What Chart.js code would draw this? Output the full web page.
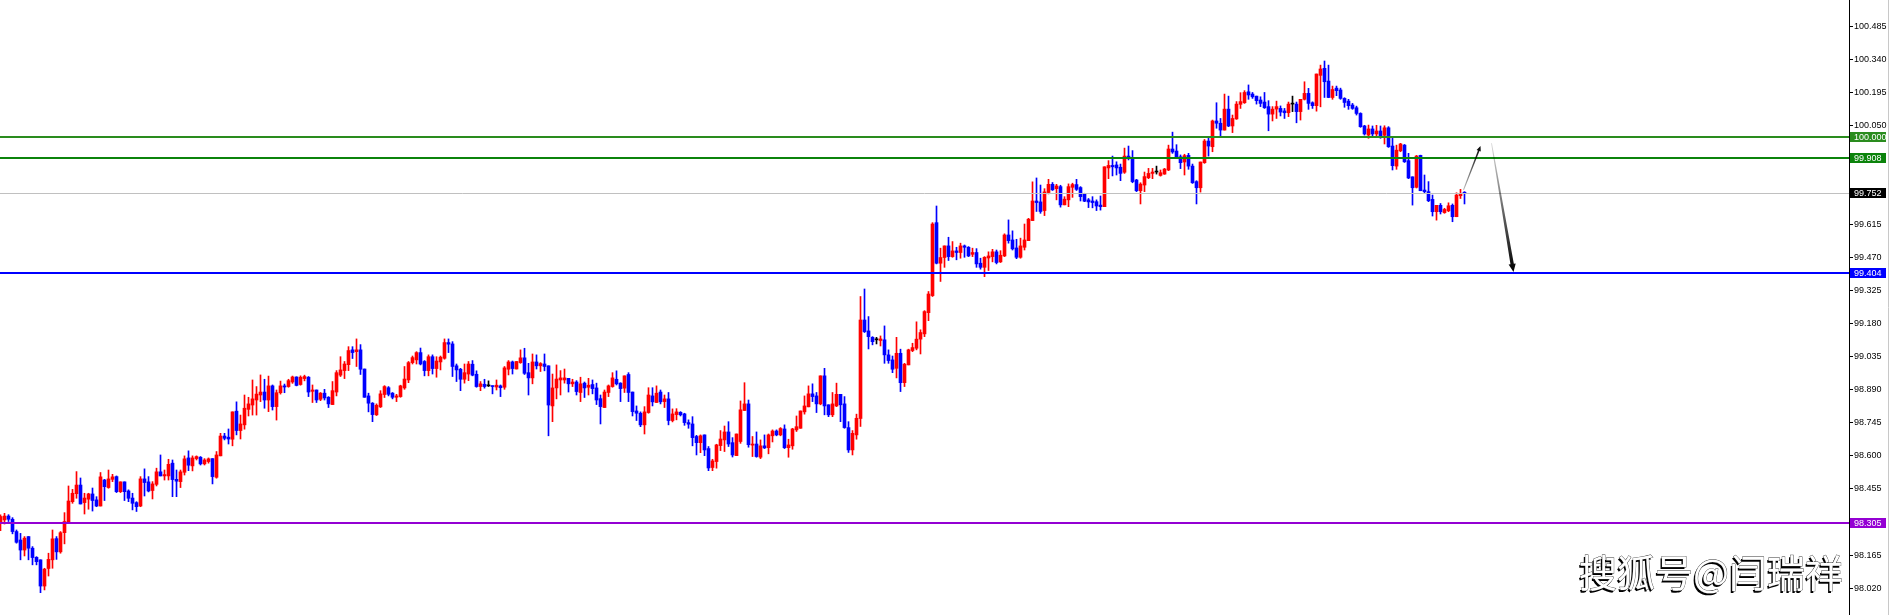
<!DOCTYPE html>
<html>
<head>
<meta charset="utf-8">
<script src="https://cdn.jsdelivr.net/npm/chart.js@4"></script>
<style>
  html, body { margin:0; padding:0; background:#fff; }
  #wrap { width:1890px; height:615px; position:relative; }
</style>
</head>
<body>
<div id="wrap"><canvas id="chart" width="1890" height="615"></canvas></div>
<script>
/* candles (oldest first) */
const opens = [
  98.307,98.319,98.336,98.322,98.268,98.231,98.187,98.246,98.195,98.155,
  98.144,98.029,98.106,98.144,98.237,98.179,98.263,98.307,98.399,98.434,
  98.472,98.395,98.410,98.433,98.407,98.380,98.494,98.461,98.497,98.509,
  98.443,98.486,98.446,98.415,98.395,98.380,98.499,98.486,98.448,98.475,
  98.530,98.512,98.512,98.568,98.497,98.487,98.528,98.591,98.556,98.588,
  98.594,98.565,98.575,98.588,98.506,98.600,98.687,98.682,98.673,98.796,
  98.711,98.736,98.804,98.823,98.845,98.867,98.880,98.845,98.907,98.816,
  98.877,98.907,98.904,98.924,98.946,98.913,98.939,98.945,98.883,98.889,
  98.848,98.875,98.857,98.825,98.880,98.954,98.974,99.000,99.065,99.057,
  99.065,98.981,98.863,98.831,98.780,98.815,98.869,98.899,98.875,98.857,
  98.860,98.898,98.933,99.009,99.021,99.053,99.014,98.974,99.035,98.983,
  99.012,99.028,99.097,99.091,98.995,98.980,98.936,98.959,99.002,98.958,
  98.904,98.914,98.907,98.907,98.902,98.907,98.901,98.980,99.012,98.981,
  99.009,99.030,98.965,98.942,99.012,98.995,99.003,98.995,98.819,98.898,
  98.933,98.933,98.940,98.916,98.924,98.878,98.919,98.901,98.913,98.898,
  98.851,98.812,98.878,98.904,98.936,98.919,98.897,98.957,98.880,98.797,
  98.787,98.736,98.790,98.863,98.834,98.880,98.838,98.850,98.755,98.781,
  98.791,98.784,98.746,98.740,98.685,98.658,98.692,98.632,98.549,98.575,
  98.645,98.670,98.705,98.658,98.601,98.663,98.799,98.828,98.647,98.652,
  98.594,98.644,98.636,98.688,98.709,98.692,98.718,98.636,98.644,98.714,
  98.721,98.793,98.815,98.872,98.863,98.828,98.951,98.824,98.780,98.819,
  98.870,98.828,98.724,98.626,98.692,98.764,99.196,99.148,99.120,99.109,
  99.106,99.109,99.043,99.021,98.984,99.050,98.921,98.999,99.062,99.072,
  99.112,99.135,99.228,99.303,99.623,99.445,99.470,99.521,99.474,99.499,
  99.492,99.521,99.515,99.484,99.492,99.445,99.427,99.468,99.474,99.495,
  99.451,99.477,99.569,99.547,99.512,99.471,99.515,99.544,99.632,99.718,
  99.714,99.676,99.755,99.791,99.772,99.781,99.701,99.723,99.778,99.790,
  99.777,99.748,99.723,99.718,99.715,99.700,99.693,99.863,99.874,99.876,
  99.866,99.844,99.915,99.904,99.810,99.763,99.788,99.820,99.839,99.845,
  99.830,99.836,99.854,99.946,99.937,99.912,99.889,99.918,99.871,99.803,
  99.776,99.886,99.981,99.956,100.069,100.059,100.029,100.121,100.047,100.078,
  100.142,100.149,100.197,100.187,100.178,100.161,100.152,100.132,100.099,100.121,
  100.124,100.113,100.105,100.143,100.143,100.110,100.164,100.190,100.149,100.136,
  100.269,100.300,100.244,100.172,100.213,100.205,100.168,100.156,100.139,100.127,
  100.102,100.047,100.007,100.034,100.012,100.025,100.006,100.039,99.959,99.871,
  99.938,99.963,99.895,99.824,99.778,99.918,99.766,99.759,99.725,99.671,
  99.699,99.667,99.675,99.699,99.649,99.741,99.755
];
const highs = [
  98.341,98.348,98.342,98.329,98.275,98.260,98.246,98.246,98.202,98.158,
  98.144,98.107,98.173,98.275,98.246,98.268,98.351,98.468,98.453,98.531,
  98.503,98.436,98.436,98.459,98.421,98.527,98.497,98.538,98.519,98.512,
  98.486,98.486,98.451,98.436,98.399,98.509,98.543,98.509,98.487,98.546,
  98.604,98.538,98.585,98.582,98.538,98.538,98.600,98.622,98.600,98.600,
  98.597,98.588,98.591,98.588,98.619,98.699,98.699,98.718,98.793,98.837,
  98.779,98.867,98.857,98.933,98.904,98.955,98.936,98.950,98.911,98.889,
  98.928,98.915,98.936,98.950,98.947,98.951,98.954,98.948,98.911,98.889,
  98.878,98.892,98.860,98.926,98.974,99.035,99.014,99.079,99.079,99.113,
  99.088,98.981,98.875,98.834,98.828,98.886,98.908,98.904,98.878,98.870,
  98.910,98.992,99.014,99.038,99.057,99.073,99.018,99.043,99.043,99.035,
  99.038,99.113,99.113,99.101,99.003,98.984,99.003,99.014,99.018,98.973,
  98.926,98.936,98.929,98.907,98.933,98.911,98.992,99.018,99.016,99.014,
  99.065,99.072,99.006,99.047,99.043,99.009,99.047,98.995,98.959,98.999,
  98.974,98.981,98.940,98.936,98.930,98.945,98.924,98.940,98.933,98.919,
  98.867,98.889,98.911,98.965,98.973,98.921,98.951,98.965,98.880,98.819,
  98.793,98.816,98.899,98.899,98.907,98.889,98.867,98.878,98.806,98.807,
  98.794,98.787,98.758,98.772,98.690,98.692,98.692,98.641,98.585,98.651,
  98.711,98.731,98.750,98.680,98.696,98.841,98.921,98.845,98.685,98.705,
  98.670,98.692,98.696,98.714,98.714,98.724,98.736,98.673,98.721,98.775,
  98.797,98.863,98.907,98.916,98.878,98.951,98.984,98.824,98.878,98.919,
  98.870,98.860,98.750,98.711,98.783,99.299,99.332,99.211,99.123,99.120,
  99.126,99.170,99.065,99.038,99.120,99.068,99.006,99.068,99.094,99.188,
  99.153,99.237,99.321,99.623,99.696,99.511,99.521,99.559,99.540,99.515,
  99.533,99.525,99.518,99.511,99.509,99.467,99.474,99.495,99.506,99.503,
  99.500,99.574,99.635,99.587,99.550,99.555,99.617,99.642,99.802,99.819,
  99.788,99.772,99.813,99.799,99.791,99.787,99.737,99.793,99.796,99.813,
  99.781,99.752,99.729,99.737,99.723,99.740,99.868,99.895,99.915,99.890,
  99.880,99.950,99.959,99.939,99.813,99.798,99.845,99.861,99.861,99.871,
  99.854,99.861,99.963,100.020,99.965,99.920,99.923,99.927,99.880,99.807,
  99.889,99.988,99.996,100.073,100.149,100.080,100.187,100.178,100.095,100.154,
  100.193,100.202,100.227,100.194,100.178,100.175,100.194,100.158,100.132,100.156,
  100.135,100.124,100.152,100.178,100.152,100.164,100.241,100.212,100.153,100.275,
  100.314,100.332,100.314,100.222,100.222,100.213,100.171,100.164,100.146,100.134,
  100.105,100.050,100.051,100.047,100.050,100.047,100.048,100.044,99.997,99.963,
  99.971,99.966,99.927,99.824,99.918,99.919,99.832,99.803,99.744,99.699,
  99.707,99.686,99.710,99.705,99.754,99.769,99.759
];
const lows = [
  98.272,98.301,98.312,98.258,98.217,98.144,98.161,98.144,98.122,98.122,
  98.000,98.012,98.073,98.107,98.146,98.173,98.214,98.304,98.392,98.414,
  98.389,98.345,98.366,98.358,98.377,98.380,98.404,98.458,98.487,98.439,
  98.439,98.404,98.399,98.363,98.356,98.377,98.424,98.442,98.411,98.468,
  98.512,98.494,98.494,98.421,98.421,98.461,98.516,98.535,98.534,98.582,
  98.560,98.560,98.568,98.477,98.502,98.600,98.670,98.652,98.644,98.692,
  98.674,98.717,98.775,98.779,98.779,98.838,98.809,98.794,98.801,98.757,
  98.871,98.877,98.901,98.918,98.907,98.910,98.929,98.860,98.834,98.834,
  98.842,98.845,98.812,98.825,98.863,98.948,98.939,98.974,99.027,98.992,
  98.957,98.857,98.793,98.750,98.777,98.812,98.856,98.863,98.850,98.838,
  98.857,98.892,98.921,99.003,99.003,98.999,98.951,98.951,98.959,98.945,
  98.977,99.024,99.053,98.948,98.926,98.886,98.919,98.930,98.951,98.901,
  98.886,98.897,98.904,98.872,98.889,98.860,98.892,98.955,98.959,98.981,
  99.006,98.957,98.867,98.916,98.981,98.970,98.973,98.688,98.750,98.850,
  98.867,98.919,98.880,98.904,98.867,98.838,98.856,98.867,98.872,98.825,
  98.740,98.812,98.860,98.901,98.911,98.838,98.878,98.838,98.775,98.755,
  98.728,98.696,98.787,98.819,98.834,98.828,98.812,98.736,98.749,98.758,
  98.775,98.734,98.721,98.644,98.604,98.614,98.601,98.535,98.535,98.546,
  98.623,98.619,98.641,98.595,98.601,98.655,98.799,98.638,98.597,98.594,
  98.588,98.632,98.609,98.661,98.688,98.688,98.632,98.594,98.629,98.707,
  98.721,98.783,98.815,98.838,98.790,98.824,98.780,98.772,98.772,98.816,
  98.750,98.721,98.615,98.604,98.673,98.729,99.141,99.069,99.087,99.091,
  99.082,99.006,99.006,98.965,98.942,98.882,98.904,98.999,99.057,99.065,
  99.047,99.123,99.193,99.299,99.442,99.365,99.427,99.457,99.471,99.460,
  99.467,99.471,99.474,99.474,99.427,99.419,99.386,99.413,99.451,99.442,
  99.448,99.474,99.533,99.503,99.465,99.467,99.503,99.544,99.632,99.672,
  99.664,99.654,99.749,99.764,99.723,99.691,99.701,99.693,99.734,99.764,
  99.718,99.715,99.689,99.688,99.676,99.678,99.693,99.816,99.828,99.832,
  99.807,99.839,99.898,99.798,99.759,99.705,99.759,99.816,99.816,99.836,
  99.827,99.835,99.851,99.927,99.905,99.860,99.832,99.857,99.795,99.705,
  99.757,99.883,99.915,99.934,100.037,100.000,100.029,100.044,100.018,100.076,
  100.124,100.146,100.164,100.168,100.143,100.132,100.124,100.026,100.069,100.080,
  100.091,100.080,100.088,100.110,100.061,100.073,100.161,100.120,100.124,100.112,
  100.131,100.172,100.171,100.164,100.180,100.164,100.129,100.120,100.120,100.095,
  100.041,100.007,99.993,100.000,99.997,99.993,99.968,99.953,99.854,99.857,
  99.934,99.887,99.816,99.700,99.775,99.763,99.751,99.715,99.652,99.634,
  99.661,99.664,99.671,99.627,99.649,99.729,99.705
];
const closes = [
  98.334,98.336,98.322,98.268,98.221,98.187,98.239,98.195,98.154,98.136,
  98.029,98.103,98.146,98.236,98.179,98.263,98.312,98.402,98.436,98.472,
  98.389,98.415,98.433,98.404,98.380,98.508,98.465,98.499,98.508,98.443,
  98.486,98.443,98.414,98.392,98.377,98.499,98.483,98.446,98.477,98.530,
  98.512,98.518,98.563,98.496,98.489,98.530,98.587,98.559,98.591,98.597,
  98.565,98.582,98.587,98.509,98.604,98.687,98.677,98.674,98.793,98.711,
  98.740,98.809,98.828,98.850,98.871,98.880,98.845,98.907,98.816,98.877,
  98.907,98.902,98.930,98.946,98.909,98.945,98.948,98.880,98.889,98.845,
  98.875,98.854,98.828,98.886,98.965,98.977,99.003,99.062,99.053,99.065,
  98.980,98.857,98.831,98.781,98.822,98.872,98.904,98.870,98.857,98.863,
  98.907,98.937,99.009,99.031,99.053,99.003,98.974,99.035,98.983,99.016,
  99.033,99.097,99.090,98.992,98.977,98.936,98.965,99.003,98.954,98.904,
  98.916,98.904,98.907,98.904,98.910,98.899,98.986,99.012,98.983,99.014,
  99.030,98.962,98.942,99.012,98.995,99.005,98.992,98.823,98.898,98.937,
  98.942,98.942,98.916,98.924,98.882,98.916,98.898,98.910,98.895,98.845,
  98.816,98.880,98.907,98.942,98.916,98.895,98.951,98.878,98.794,98.787,
  98.736,98.793,98.867,98.837,98.875,98.837,98.850,98.755,98.784,98.793,
  98.780,98.746,98.739,98.680,98.658,98.688,98.626,98.547,98.578,98.648,
  98.674,98.705,98.652,98.604,98.696,98.802,98.828,98.649,98.652,98.597,
  98.644,98.635,98.692,98.709,98.692,98.720,98.636,98.648,98.718,98.728,
  98.797,98.819,98.872,98.860,98.828,98.951,98.819,98.780,98.828,98.870,
  98.824,98.724,98.626,98.699,98.765,99.196,99.145,99.123,99.101,99.109,
  99.113,99.043,99.018,98.980,99.050,98.921,99.002,99.065,99.075,99.112,
  99.141,99.233,99.310,99.617,99.445,99.470,99.521,99.474,99.499,99.492,
  99.521,99.515,99.477,99.492,99.442,99.427,99.471,99.477,99.495,99.448,
  99.480,99.569,99.544,99.508,99.471,99.521,99.547,99.638,99.718,99.711,
  99.672,99.758,99.791,99.767,99.784,99.701,99.726,99.781,99.790,99.769,
  99.737,99.717,99.714,99.711,99.696,99.693,99.868,99.874,99.868,99.863,
  99.839,99.915,99.909,99.803,99.763,99.792,99.825,99.839,99.845,99.845,
  99.842,99.858,99.946,99.933,99.909,99.886,99.917,99.871,99.798,99.776,
  99.889,99.981,99.959,100.069,100.059,100.029,100.121,100.047,100.080,100.143,
  100.154,100.194,100.183,100.175,100.158,100.146,100.127,100.099,100.121,100.132,
  100.108,100.105,100.143,100.143,100.110,100.164,100.190,100.146,100.136,100.275,
  100.297,100.241,100.172,100.207,100.202,100.168,100.150,100.136,100.124,100.102,
  100.044,100.012,100.034,100.012,100.025,100.000,100.039,99.956,99.873,99.941,
  99.968,99.890,99.819,99.776,99.915,99.763,99.759,99.719,99.671,99.699,
  99.671,99.681,99.697,99.649,99.744,99.751,99.752
];

// price axis labels (the ones hidden behind line tags are left out)
const yTicks = [100.485,100.340,100.195,100.050,99.615,99.470,99.325,99.180,
                99.035,98.890,98.745,98.600,98.455,98.165,98.020];
const Y_MIN = 97.902, Y_MAX = 100.5996;

// horizontal levels + their tags
const levelValues = [100.000, 99.908, 99.752, 99.404, 98.305];
const levelColors = ['#2a8c1e', '#0b830b', '#c0c0c0', '#0000ff', '#9400d3'];
const levelTagBg  = ['#2a8c1e', '#0b830b', '#000000', '#0000ff', '#9400d3'];
const levelWidths = [2, 2, 1, 2, 2];

// hand drawn arrows: [x0, price0, x1, price1] in bar index / price units
const arrowUp   = [365.75, 99.766, 370.0, 99.959];
const arrowDown = [372.75, 99.972, 378.25, 99.407];

const WATERMARK = '搜狐号@闫瑞祥';

const BULL = '#ff0000', BEAR = '#0000ff', DOJI = '#000000';
const colorOf = i => closes[i] > opens[i] ? BULL : (closes[i] < opens[i] ? BEAR : DOJI);
const candleColors = opens.map((o, i) => colorOf(i));

const wickData = opens.map((o, i) => ({ x: i, y: [lows[i], highs[i]] }));
const bodyData = opens.map((o, i) => ({ x: i, y: [opens[i], closes[i]] }));

const AXIS_FONT = { family: 'Liberation Sans', size: 9 };

function tapered(ctx, x1, y1, x2, y2, w1, w2, head, c1, c2){
  const dx = x2 - x1, dy = y2 - y1, len = Math.hypot(dx, dy);
  const ux = dx/len, uy = dy/len, nx = -uy, ny = ux;
  const bx = x2 - ux*head, by = y2 - uy*head;
  const g = ctx.createLinearGradient(x1, y1, x2, y2);
  g.addColorStop(0, c1); g.addColorStop(1, c2);
  ctx.fillStyle = g;
  ctx.beginPath();
  ctx.moveTo(x1 + nx*w1/2, y1 + ny*w1/2);
  ctx.lineTo(bx + nx*w2/2, by + ny*w2/2);
  ctx.lineTo(bx + nx*head*0.45, by + ny*head*0.45);
  ctx.lineTo(x2, y2);
  ctx.lineTo(bx - nx*head*0.45, by - ny*head*0.45);
  ctx.lineTo(bx - nx*w2/2, by - ny*w2/2);
  ctx.lineTo(x1 - nx*w1/2, y1 - ny*w1/2);
  ctx.closePath();
  ctx.fill();
}

const overlay = {
  id: 'overlay',
  afterDatasetsDraw(chart){
    const {ctx, chartArea: a, scales: {x, y}} = chart;
    ctx.save();
    levelValues.forEach((v, i) => {
      const py = Math.round(y.getPixelForValue(v)) + (levelWidths[i] % 2 ? 0.5 : 0);
      ctx.strokeStyle = levelColors[i];
      ctx.lineWidth = levelWidths[i];
      ctx.beginPath(); ctx.moveTo(a.left, py); ctx.lineTo(a.right, py); ctx.stroke();
    });
    const ax = (arr, w1, w2, head, c1) => tapered(ctx,
      x.getPixelForValue(arr[0]), y.getPixelForValue(arr[1]),
      x.getPixelForValue(arr[2]), y.getPixelForValue(arr[3]), w1, w2, head, c1, '#000');
    ax(arrowUp, 1, 1.6, 5, 'rgba(0,0,0,0.25)');
    ax(arrowDown, 0.8, 3.4, 8, 'rgba(0,0,0,0.15)');
    ctx.restore();
  },
  afterDraw(chart){
    const {ctx, chartArea: a, scales: {y}} = chart;
    ctx.save();
    ctx.font = `${AXIS_FONT.size}px "${AXIS_FONT.family}"`;
    ctx.textBaseline = 'middle';
    levelValues.forEach((v, i) => {
      const py = Math.round(y.getPixelForValue(v));
      ctx.fillStyle = levelTagBg[i];
      ctx.fillRect(a.right + 1, py - 5, 36, 10);
      ctx.fillStyle = '#fff';
      ctx.fillText(v.toFixed(3), a.right + 5, py + 0.5);
    });
    // thin frame on the far right
    ctx.strokeStyle = '#c8c8c8'; ctx.lineWidth = 1;
    ctx.beginPath(); ctx.moveTo(1888.5, 0); ctx.lineTo(1888.5, 615); ctx.stroke();

    // watermark
    ctx.font = '38px "Noto Sans CJK SC"';
    ctx.textAlign = 'right';
    ctx.textBaseline = 'middle';
    const wx = a.right - 6, wy = 573;
    ctx.fillStyle = '#000';
    ctx.fillText(WATERMARK, wx - 1.5, wy + 1.5);
    ctx.strokeStyle = '#333'; ctx.lineWidth = 0.8;
    ctx.strokeText(WATERMARK, wx, wy);
    ctx.fillStyle = '#fff';
    ctx.fillText(WATERMARK, wx, wy);
    ctx.restore();
  }
};

new Chart(document.getElementById('chart'), {
  type: 'bar',
  data: {
    datasets: [
      { data: wickData, backgroundColor: candleColors, barThickness: 1, grouped: false, borderWidth: 0, order: 2 },
      { data: bodyData, backgroundColor: candleColors, barThickness: 3, grouped: false, borderWidth: 0, minBarLength: 1, order: 1 }
    ]
  },
  options: {
    responsive: false,
    animation: false,
    devicePixelRatio: 1,
    layout: { padding: 0 },
    plugins: { legend: { display: false }, tooltip: { enabled: false } },
    scales: {
      x: { type: 'linear', display: false, min: -0.125, max: 462.125, offset: false },
      y: {
        position: 'right',
        min: Y_MIN, max: Y_MAX,
        afterBuildTicks: s => { s.ticks = yTicks.map(v => ({ value: v })); },
        afterFit: s => { s.width = 41; s.paddingTop = 0; s.paddingBottom = 0; },
        grid: { drawOnChartArea: false, drawTicks: true, tickLength: 4, color: '#000' },
        border: { display: true, color: '#000', width: 1 },
        ticks: { color: '#000', font: AXIS_FONT, padding: 1, callback: v => Number(v).toFixed(3) }
      }
    }
  },
  plugins: [overlay]
});
</script>
</body>
</html>
